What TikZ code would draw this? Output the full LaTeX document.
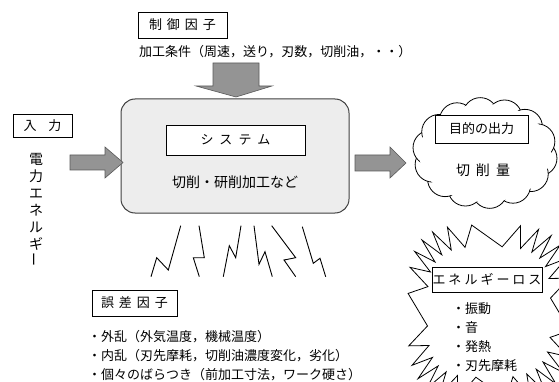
\documentclass[tikz,border=0pt]{standalone}
\usepackage{fontspec}
\setmainfont{Noto Sans CJK JP}
\begin{document}
\begin{tikzpicture}[x=1pt,y=-1pt,
  font=\fontsize{13}{15}\selectfont,
  lbox/.style={draw, line width=0.8pt, inner sep=0pt, fill=white},
  txt/.style={inner sep=0pt},
  blockarrow/.style={fill=black!42, draw=black!65, line width=0.6pt},
  bolt/.style={line width=0.9pt, line join=miter},
  bul/.style={inner sep=0pt, anchor=west}]
\useasboundingbox (0,0) rectangle (559,382);

% control factor
\node[lbox, minimum width=89pt, minimum height=26pt] (ctrl) at (182.5,25) {制\hspace{5pt}御\hspace{5pt}因\hspace{5pt}子};
\node[txt, anchor=west] (cond) at (139,52) {加工条件（周速，送り，刃数，切削油，・・）};

% down arrow
\draw[blockarrow] (213,63) -- (259,63) -- (259,86) -- (272,86) -- (236,97) -- (196,86) -- (213,86) -- cycle;

% system
\draw[fill=gray!14, draw=gray!50!black, line width=1pt, rounded corners=14pt] (121,99) rectangle (349,213);
\node[lbox, minimum width=139pt, minimum height=30pt] (sysin) at (235.5,140) {シ\hspace{6pt}ス\hspace{6pt}テ\hspace{6pt}ム};
\node[txt, font=\fontsize{14}{16}\selectfont] (sysproc) at (235,182) {切削・研削加工など};

% input
\node[lbox, minimum width=59pt, minimum height=23pt] (inp) at (42.5,125.5) {入\hspace{12pt}力};
\node[txt, anchor=north, align=center, font=\fontsize{14}{17}\selectfont] (energy) at (36,153)
  {電\\力\\エ\\ネ\\ル\\ギ\\\rotatebox{90}{ー}};

% left arrow
\draw[blockarrow] (70,155) -- (105,155) -- (105,147) -- (123,162.5) -- (105,178) -- (105,170) -- (70,170) -- cycle;
% right arrow
\draw[blockarrow] (355,155) -- (390,155) -- (390,147) -- (406,163) -- (390,178) -- (390,171) -- (355,171) -- cycle;

% output cloud (puffs on an ellipse)
\foreach \k in {0,...,13} {
  \draw[line width=0.8pt, fill=white] ({485+55*cos(25.71*\k+8)},{153+38*sin(25.71*\k+8)}) circle[radius=17.5pt];
}
\fill[white] (485,153) ellipse[x radius=66pt, y radius=49pt];
\node[txt] (cloud) at (485,153) {};
\node[lbox, minimum width=93pt, minimum height=28pt] (outt) at (481.5,129) {目的の出力};
\node[txt, font=\fontsize{14}{16}\selectfont] (outv) at (483,170) {切\hspace{6pt}削\hspace{6pt}量};

% bolts
\draw[bolt] (180.7,225.7) -- (168.3,270) -- (156.7,257.7) -- (151,276.7);
\draw[bolt] (199,225.7) -- (204.3,257.7) -- (193.3,257.7) -- (199.3,276.7);
\draw[bolt] (241,225.7) -- (235.7,257.7) -- (229.3,245.7) -- (223.3,276.7);
\draw[bolt] (254,225.7) -- (259,264.3) -- (265,251.7) -- (272.3,276.7);
\draw[bolt] (271.7,225.7) -- (295.7,257.7) -- (284,260) -- (295.7,276.7);
\draw[bolt] (302.3,226.7) -- (313.3,263.3) -- (320,258.3) -- (325.7,276.7);

% error factors
\node[lbox, minimum width=85pt, minimum height=26pt] (err) at (134.5,303) {誤\hspace{5pt}差\hspace{5pt}因\hspace{5pt}子};
\node[bul] (e1) at (88,337) {・外乱（外気温度，機械温度）};
\node[bul] (e2) at (88,356) {・内乱（刃先摩耗，切削油濃度変化，劣化）};
\node[bul] (e3) at (88,375) {・個々のばらつき（前加工寸法，ワーク硬さ）};

% energy loss starburst (super-ellipse star)
\begin{scope}
\clip (0,0) rectangle (559,382);
\draw[line width=0.8pt, fill=white, line join=miter]
  \foreach \i in {0,...,51} {
    \ifnum\i=0 \else -- \fi
    ({489+81*(1-0.24*mod(\i,2))*cos(6.923*\i+3.46)*pow(abs(cos(6.923*\i+3.46)),-0.45)},
     {312+87*(1-0.25*mod(\i,2))*sin(6.923*\i+3.46)*pow(abs(sin(6.923*\i+3.46)),-0.45)})
  } -- cycle;
\end{scope}
\node[lbox, minimum width=110pt, minimum height=25pt] (loss) at (487,279.5) {エ\hspace{3pt}ネ\hspace{3pt}ル\hspace{3pt}ギ\hspace{3pt}ー\hspace{3pt}ロ\hspace{3pt}ス};
\node[bul] (l1) at (452,309) {・振動};
\node[bul] (l2) at (452,328) {・音};
\node[bul] (l3) at (452,347) {・発熱};
\node[bul] (l4) at (452,366) {・刃先摩耗};
\end{tikzpicture}
\end{document}
